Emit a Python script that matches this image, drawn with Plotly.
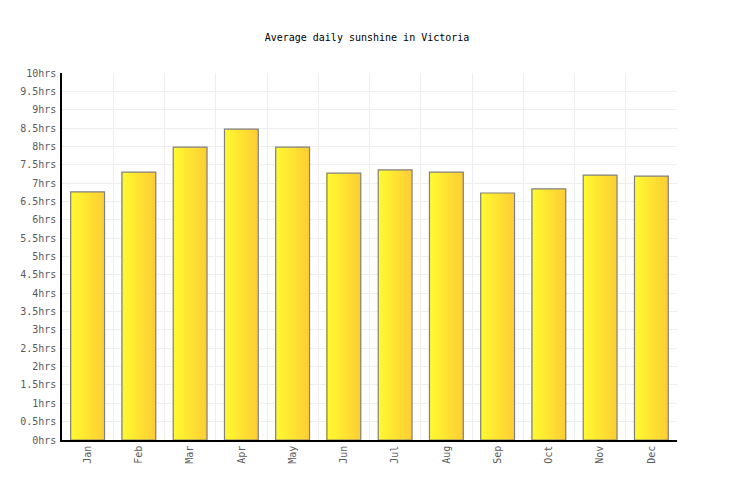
import plotly.graph_objects as go

months = ["Jan", "Feb", "Mar", "Apr", "May", "Jun", "Jul", "Aug", "Sep", "Oct", "Nov", "Dec"]
sunshine = [6.76, 7.30, 7.98, 8.47, 7.98, 7.27, 7.36, 7.30, 6.73, 6.84, 7.22, 7.19]
ytick_vals = [i * 0.5 for i in range(21)]
ytick_text = ["0hrs", "0.5hrs", "1hrs", "1.5hrs", "2hrs", "2.5hrs", "3hrs", "3.5hrs", "4hrs",
              "4.5hrs", "5hrs", "5.5hrs", "6hrs", "6.5hrs", "7hrs", "7.5hrs", "8hrs",
              "8.5hrs", "9hrs", "9.5hrs", "10hrs"]

FONT = "DejaVu Sans Mono"
BAR_W = 0.66
N_SLICES = 24
c0 = (255, 250, 48)
c1 = (253, 206, 52)

fig = go.Figure()
sw = BAR_W / N_SLICES
for i in range(N_SLICES):
    t = i / (N_SLICES - 1)
    col = "rgb(%d,%d,%d)" % tuple(round(a + (b - a) * t) for a, b in zip(c0, c1))
    fig.add_trace(go.Bar(
        x=months, y=sunshine, width=sw * 1.05, offset=-BAR_W / 2 + i * sw,
        marker=dict(color=col, line=dict(width=0)), hoverinfo="skip", showlegend=False,
    ))
fig.add_trace(go.Bar(
    x=months, y=sunshine, width=BAR_W, offset=-BAR_W / 2,
    marker=dict(color="rgba(0,0,0,0)", line=dict(color="#808080", width=1.2)),
    showlegend=False,
))

fig.update_layout(
    width=736, height=500,
    barmode="overlay",
    paper_bgcolor="white", plot_bgcolor="white",
    margin=dict(l=49, r=67, t=65, b=68),
    title=dict(text="Average daily sunshine in Victoria", x=(49 + 669) / 2 / 736, xanchor="center",
               y=1 - 29 / 500, yanchor="middle",
               font=dict(family=FONT, size=10, color="#000")),
    font=dict(family=FONT, size=10, color="#5a5a5a"),
    xaxis=dict(type="category", tickson="boundaries", showgrid=True, gridcolor="#eeeeee",
               gridwidth=1, tickangle=-90, ticks="outside", ticklen=3, tickcolor="rgba(0,0,0,0)",
               showline=True, linecolor="#000",
               linewidth=1.5, tickfont=dict(family=FONT, size=10, color="#5a5a5a"),
               range=[-0.5, 11.5]),
    yaxis=dict(range=[0, 10], tickvals=ytick_vals, ticktext=ytick_text, showgrid=True,
               gridcolor="#eeeeee", gridwidth=1, showline=True, linecolor="#000",
               linewidth=1.5, ticks="outside", ticklen=2, tickcolor="rgba(0,0,0,0)",
               zeroline=False,
               tickfont=dict(family=FONT, size=10, color="#5a5a5a")),
)

fig.write_html("out.html")
